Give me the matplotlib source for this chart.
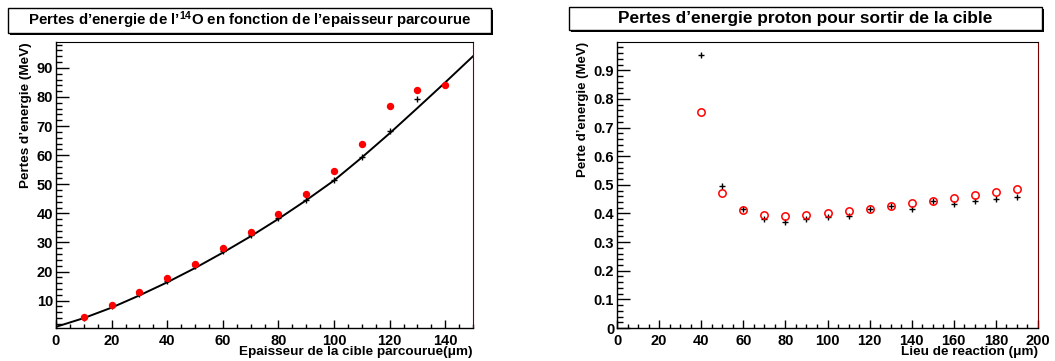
import matplotlib
matplotlib.use("Agg")
import matplotlib.pyplot as plt
from matplotlib.patches import Rectangle
from matplotlib.ticker import MultipleLocator

plt.rcParams['font.family'] = ['Liberation Sans', 'DejaVu Sans']
plt.rcParams['font.weight'] = 'bold'
plt.rcParams['mathtext.fontset'] = 'custom'
plt.rcParams['mathtext.rm'] = 'Liberation Sans:bold'
plt.rcParams['mathtext.it'] = 'Liberation Sans:bold'
plt.rcParams['mathtext.bf'] = 'Liberation Sans:bold'

# left panel: energy loss of 14O vs thickness
thick = [10, 20, 30, 40, 50, 60, 70, 80, 90, 100, 110, 120, 130, 140]
loss_red = [4.3, 8.5, 13.0, 17.7, 22.7, 28.0, 33.6, 39.9, 46.7, 54.4, 63.8, 76.9, 82.3, 84.1]
cross_x = [10, 20, 30, 40, 50, 60, 70, 80, 90, 100, 110, 120, 130]
loss_cross = [4.0, 8.0, 12.4, 16.8, 21.9, 27.1, 32.6, 38.3, 44.6, 51.5, 59.5, 68.4, 79.3]
fit_x = [0, 10, 20, 30, 40, 50, 60, 70, 80, 90, 100, 110, 120, 130, 140, 150]
fit_y = [1.0, 4.0, 7.6, 11.8, 16.3, 21.2, 26.5, 32.1, 38.1, 44.5, 51.3, 59.2, 67.5, 76.2, 85.0, 94.0]

# right panel: proton energy loss vs reaction position
pos = [40, 50, 60, 70, 80, 90, 100, 110, 120, 130, 140, 150, 160, 170, 180, 190]
perte_cross = [0.952, 0.495, 0.414, 0.382, 0.372, 0.382, 0.386, 0.392, 0.416, 0.427,
               0.415, 0.444, 0.433, 0.442, 0.449, 0.458]
perte_red = [0.753, 0.470, 0.413, 0.395, 0.392, 0.394, 0.400, 0.407, 0.416, 0.426,
             0.435, 0.444, 0.455, 0.465, 0.476, 0.486]

W, H = 1055, 361
fig = plt.figure(figsize=(W / 100, H / 100), dpi=100)


def style(ax, xmaj, xmin, ymaj, ymin):
    ax.xaxis.set_major_locator(MultipleLocator(xmaj))
    ax.xaxis.set_minor_locator(MultipleLocator(xmin))
    ax.yaxis.set_major_locator(MultipleLocator(ymaj))
    ax.yaxis.set_minor_locator(MultipleLocator(ymin))
    ax.tick_params(which='both', direction='in', top=False, right=False, labelsize=10.5, width=1)
    ax.tick_params(axis='y', which='major', length=9, pad=2)
    ax.tick_params(axis='y', which='minor', length=4.5)
    ax.tick_params(axis='x', which='major', length=6, pad=4)
    ax.tick_params(axis='x', which='minor', length=2.6)
    ax.spines['right'].set_color('#7a0000')
    ax.spines['top'].set_linewidth(0.8)
    for s in ('left', 'bottom'):
        ax.spines[s].set_linewidth(1.0)
    for lab in ax.get_xticklabels() + ax.get_yticklabels():
        lab.set_fontweight('bold')


def title_box(x0, y0, x1, y1, text, size):
    # shadow then box, pixel coords from top-left
    fig.patches.append(Rectangle(((x0 + 2) / W, 1 - (y1 + 2) / H), (x1 - x0) / W, (y1 - y0) / H,
                                 transform=fig.transFigure, facecolor='black', edgecolor='none'))
    fig.patches.append(Rectangle((x0 / W, 1 - y1 / H), (x1 - x0) / W, (y1 - y0) / H,
                                 transform=fig.transFigure, facecolor='white', edgecolor='black', lw=1))
    fig.text((x0 + x1) / 2 / W, 1 - (y0 + y1) / 2 / H, text, ha='center', va='center',
             fontsize=size, fontweight='bold')


ax1 = fig.add_axes([56 / W, 1 - 328 / H, 417 / W, 286 / H])
ax1.plot(fit_x, fit_y, color='black', lw=1.4)
ax1.plot(cross_x, loss_cross, '+', color='black', ms=5, mew=1)
ax1.plot(thick, loss_red, 'o', color='red', ms=4.3, mec='red')
ax1.set_xlim(0, 150)
ax1.set_ylim(0.6, 98.9)
style(ax1, 20, 5, 10, 2)
ax1.set_xlabel("Epaisseur de la cible parcourue(\u03bcm)", fontsize=9.7, fontweight='bold')
ax1.xaxis.set_label_coords(1.0, -0.084)
ax1.xaxis.label.set_ha('right')
ax1.xaxis.label.set_va('center')
ax1.set_ylabel("Pertes d\u2019energie (MeV)", fontsize=9.7, fontweight='bold')
ax1.yaxis.set_label_coords(-0.073, 1.0)
ax1.yaxis.label.set_va('center')
ax1.yaxis.label.set_ha('right')

ax2 = fig.add_axes([617 / W, 1 - 328 / H, 421 / W, 286 / H])
ax2.plot(pos, perte_cross, '+', color='black', ms=5, mew=1)
ax2.plot(pos, perte_red, 'o', color='red', ms=5.3, mfc='none', mec='red', mew=1.1)
ax2.set_xlim(0, 200)
ax2.set_ylim(0, 0.999)
style(ax2, 20, 5, 0.1, 0.02)
ax2.yaxis.set_major_formatter(plt.FuncFormatter(lambda v, p: '0' if abs(v) < 1e-9 else f'{v:g}'))
ax2.set_xlabel("Lieu de reaction (\u03bcm)", fontsize=9.7, fontweight='bold')
ax2.xaxis.set_label_coords(1.0, -0.084)
ax2.xaxis.label.set_ha('right')
ax2.xaxis.label.set_va('center')
ax2.set_ylabel("Perte d\u2019energie (MeV)", fontsize=9.5, fontweight='bold')
ax2.yaxis.set_label_coords(-0.08, 1.0)
ax2.yaxis.label.set_va('center')
ax2.yaxis.label.set_ha('right')

title_box(8, 8, 491, 33, "Pertes d\u2019energie de l\u2019$^{14}$O en fonction de l\u2019epaisseur parcourue", 10.8)
title_box(569, 7, 1042, 30, "Pertes d\u2019energie proton pour sortir de la cible", 12.4)

fig.savefig("out.png", dpi=100)
